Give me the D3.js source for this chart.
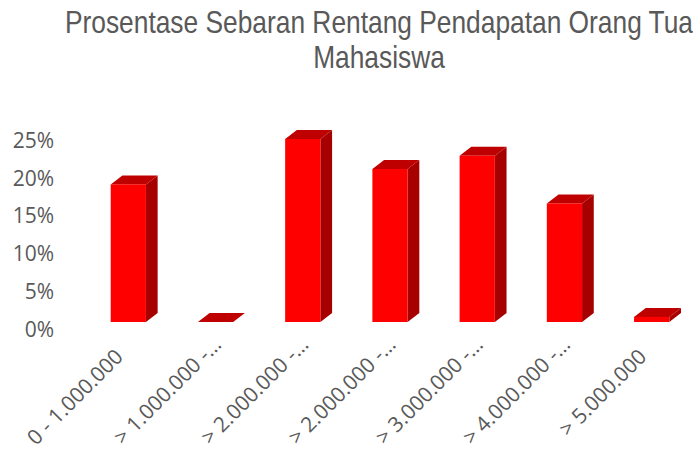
<!DOCTYPE html>
<html>
<head>
<meta charset="utf-8">
<script src="https://cdn.jsdelivr.net/npm/d3@7"></script>
<style>
  html, body { margin: 0; padding: 0; background: #fff; }
  svg { display: block; }
  text { fill: #595959; }
  .title { font-family: "Liberation Sans", sans-serif; font-size: 31px; }
  .tick text { font-family: "Open Sans", sans-serif; font-size: 21px; }
  .cat { font-family: "Open Sans", sans-serif; font-size: 21px; }
</style>
</head>
<body>
<script>
// values, percent
var categories = ["0 - 1.000.000", "> 1.000.000 -…", "> 2.000.000 -…", "> 2.000.000 -…",
                  "> 3.000.000 -…", "> 4.000.000 -…", "> 5.000.000"];
var values = [18.8, 0, 25, 20.9, 22.7, 16.2, 0.7];
var tickValues = [0, 5, 10, 15, 20, 25];
var titleLines = ["Prosentase Sebaran Rentang Pendapatan Orang Tua", "Mahasiswa"];

var width = 693, height = 450;
var depthX = 11.7, depthY = 9;

var svg = d3.select("body").append("svg")
    .attr("width", width)
    .attr("height", height);

var x = d3.scaleBand()
    .domain(d3.range(categories.length))
    .range([110.7, 669.3])
    .paddingInner(0.596)
    .paddingOuter(0);

// bars sit on the front plane of the 3d box, the axis labels on the back one
var y = d3.scaleLinear().domain([0, 25]).range([322, 139]);
var yAxis = d3.scaleLinear().domain([0, 25]).range([329, 140]);

svg.selectAll(".title")
    .data(titleLines)
  .enter().append("text")
    .attr("class", "title")
    .attr("text-anchor", "middle")
    .attr("transform", function(d, i) { return "translate(379," + (33 + i * 35) + ") scale(0.85,1)"; })
    .text(function(d) { return d; });

var axis = d3.axisLeft(yAxis)
    .tickValues(tickValues)
    .tickSize(0)
    .tickFormat(function(d) { return d + "%"; });

svg.append("g")
    .attr("transform", "translate(59,0)")
    .call(axis)
    .call(function(g) { g.select(".domain").remove(); })
    .selectAll("text")
    .attr("x", -5)
    .attr("dy", "0.35em");

var bars = svg.selectAll(".bar")
    .data(values)
  .enter().append("g")
    .attr("class", "bar");

// right side
bars.append("path")
    .attr("fill", "#a60000")
    .attr("d", function(d, i) {
      var x1 = x(i) + x.bandwidth();
      return "M" + x1 + "," + y(d) + "l" + depthX + "," + (-depthY) +
             "V" + (y(0) - depthY) + "l" + (-depthX) + "," + depthY + "Z";
    });

// top
bars.append("path")
    .attr("fill", "#bf0000")
    .attr("d", function(d, i) {
      return "M" + x(i) + "," + y(d) + "l" + depthX + "," + (-depthY) +
             "h" + x.bandwidth() + "l" + (-depthX) + "," + depthY + "Z";
    });

// front
bars.append("rect")
    .attr("fill", "#ff0000")
    .attr("x", function(d, i) { return x(i); })
    .attr("y", function(d) { return y(d); })
    .attr("width", x.bandwidth())
    .attr("height", function(d) { return y(0) - y(d); });

// truncated labels run a little further up than the full ones
svg.selectAll(".cat")
    .data(categories)
  .enter().append("text")
    .attr("class", "cat")
    .attr("text-anchor", "end")
    .attr("transform", function(d, i) {
      var cx = x(i) + x.bandwidth() / 2;
      var cut = d.slice(-1) === "…";
      return "translate(" + (cx + (cut ? 7 : -4)) + "," + (cut ? 346 : 358) + ") rotate(-45)";
    })
    .text(function(d) { return d; });
</script>
</body>
</html>
